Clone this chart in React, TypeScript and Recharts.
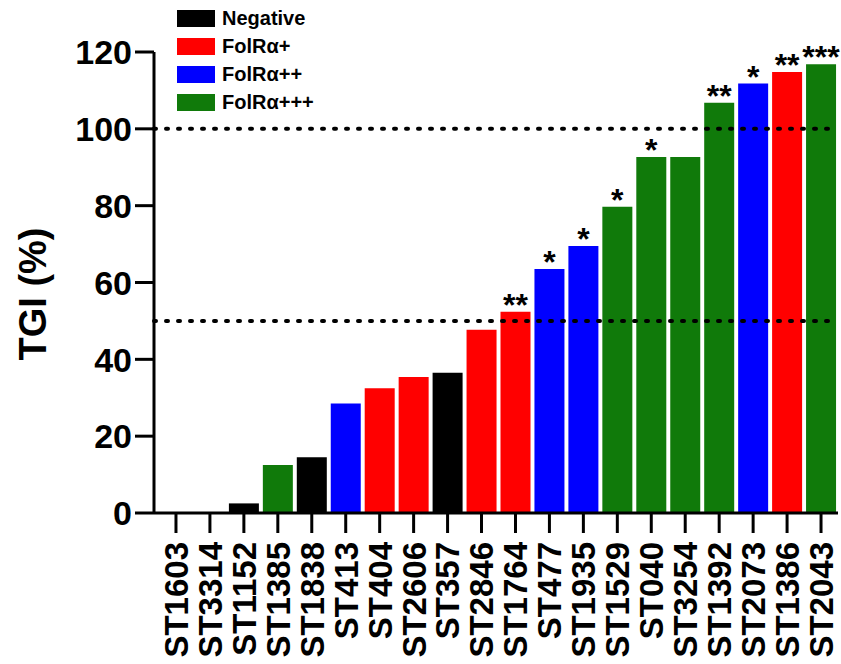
import React from "react";
import { BarChart, Bar, XAxis, YAxis, Cell, ReferenceLine, LabelList } from "recharts";

const categories = ["ST1603","ST3314","ST1152","ST1385","ST1838","ST413","ST404","ST2606","ST357","ST2846","ST1764","ST477","ST1935","ST1529","ST040","ST3254","ST1392","ST2073","ST1386","ST2043"];
const tgiValues = [0,0,2.5,12.5,14.5,28.5,32.5,35.4,36.5,47.7,52.4,63.5,69.5,79.7,92.7,92.7,106.8,111.8,114.8,116.8];
const groups = ["Negative","Negative","Negative","FolRα+++","Negative","FolRα++","FolRα+","FolRα+","Negative","FolRα+","FolRα+","FolRα++","FolRα++","FolRα+++","FolRα+++","FolRα+++","FolRα+++","FolRα++","FolRα+","FolRα+++"];
const significance = ["","","","","","","","","","","**","*","*","*","*","","**","*","**","***"];
const legendGroups = ["Negative","FolRα+","FolRα++","FolRα+++"];
const groupColors: Record<string,string> = {
  "Negative": "#000000",
  "FolRα+": "#FF0000",
  "FolRα++": "#0000FF",
  "FolRα+++": "#107A0A",
};
const yTicks = [0,20,40,60,80,100,120];
const thresholds = [50,100];

const data = categories.map((c, i) => ({ name: c, tgi: tgiValues[i], group: groups[i], sig: significance[i] }));

const FONT = '"Liberation Sans", Arial, Helvetica, sans-serif';

const XTick = (props: any) => {
  const { x, y, payload } = props;
  return (
    <g transform={`translate(${x},${y})`}>
      <text transform="rotate(-90)" textAnchor="end" dy="0.36em" fontFamily={FONT} fontWeight="bold" fontSize={33} fill="#000">
        {payload.value}
      </text>
    </g>
  );
};

const YTick = (props: any) => {
  const { x, y, payload } = props;
  return (
    <text x={x} y={y} textAnchor="end" dy="0.36em" fontFamily={FONT} fontWeight="bold" fontSize={34} fill="#000">
      {payload.value}
    </text>
  );
};

const SigLabel = (props: any) => {
  const { x, y, width, value } = props;
  if (!value) return null;
  return (
    <text x={x + width / 2} y={y + 4} textAnchor="middle" fontFamily={FONT} fontWeight="bold" fontSize={32} fill="#000">
      {value}
    </text>
  );
};

const LegendBox = () => (
  <div style={{ position: "absolute", top: 4, left: 177, fontFamily: FONT }}>
    {legendGroups.map((g) => (
      <div key={g} style={{ display: "flex", alignItems: "center", height: 28 }}>
        <div style={{ width: 38, height: 17, background: groupColors[g] }} />
        <span style={{ marginLeft: 7, fontSize: 20, fontWeight: "bold", color: "#000", lineHeight: "28px" }}>{g}</span>
      </div>
    ))}
  </div>
);

const YLabel = () => (
  <text x={32} y={294} transform="rotate(-90, 32, 294)" textAnchor="middle" dy="0.36em" fontFamily={FONT} fontWeight="bold" fontSize={38} fill="#000">
    TGI (%)
  </text>
);

export default function App() {
  return (
    <div style={{ position: "absolute", left: 0, top: 0, width: 841, height: 664, background: "#fff" }}>
      <BarChart width={841} height={664} data={data} margin={{ top: 52, right: 3, bottom: 0, left: 0 }} barSize={30}>
        <XAxis
          dataKey="name"
          interval={0}
          height={151}
          padding={{ left: 5, right: 0 }}
          tick={<XTick />}
          tickSize={20}
          tickMargin={9}
          axisLine={{ stroke: "#000", strokeWidth: 3 }}
          tickLine={{ stroke: "#000", strokeWidth: 3 }}
        />
        <YAxis
          domain={[0, 120]}
          ticks={yTicks}
          width={154}
          tick={<YTick />}
          tickSize={19}
          tickMargin={3}
          axisLine={{ stroke: "#000", strokeWidth: 3 }}
          tickLine={{ stroke: "#000", strokeWidth: 3 }}
          label={<YLabel />}
        />
        {thresholds.map((t) => (
          <ReferenceLine key={t} y={t} stroke="#000" strokeWidth={4} strokeDasharray="2 10" strokeLinecap="round" />
        ))}
        <Bar dataKey="tgi" isAnimationActive={false}>
          {data.map((d) => (
            <Cell key={d.name} fill={groupColors[d.group]} />
          ))}
          <LabelList dataKey="sig" content={<SigLabel />} />
        </Bar>
      </BarChart>
      <LegendBox />
    </div>
  );
}
